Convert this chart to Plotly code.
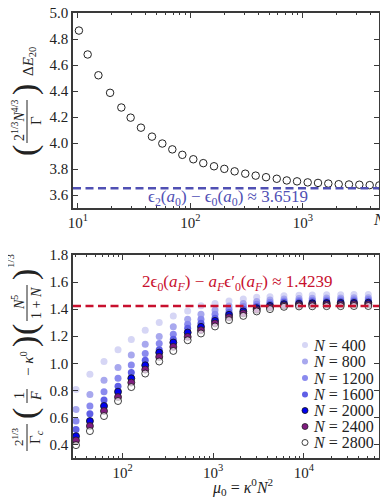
import plotly.graph_objects as go
from plotly.subplots import make_subplots

# ---- top panel data: scaled gap vs N ----
n_top = [10.2, 12.2, 15.2, 19.3, 24.3, 29.4, 36.3, 45.5, 56.2, 69.0, 84.7, 106,
         130, 162, 200, 247, 307, 380, 470, 585, 718, 886, 1102, 1361, 1680,
         2078, 2566, 3170, 3920, 4775]
gap_top = [4.865, 4.681, 4.521, 4.386, 4.273, 4.195, 4.118, 4.049, 3.996, 3.951,
           3.909, 3.875, 3.845, 3.821, 3.801, 3.782, 3.764, 3.749, 3.737, 3.725,
           3.712, 3.705, 3.697, 3.693, 3.688, 3.683, 3.681, 3.679, 3.676, 3.674]
limit_top = 3.6519

# ---- bottom panel data: scaled field vs mu0, one series per N ----
mu0 = [30.7, 43.7, 62.5, 89.2, 125, 178, 254, 363, 523, 733, 1047, 1494, 2147,
       3016, 4227, 6030, 8830, 12370, 17810, 25450, 35640, 51290]
n_labels = [400, 800, 1200, 1600, 2000, 2400, 2800]
f_400 = [0.807, 0.919, 1.013, 1.099, 1.175, 1.244, 1.301, 1.350, 1.387, 1.425, 1.442,
         1.461, 1.474, 1.487, 1.491, 1.499, 1.503, 1.505, 1.506, 1.507, 1.508, 1.509]
f_800 = [0.659, 0.770, 0.874, 0.968, 1.061, 1.141, 1.198, 1.269, 1.326, 1.363, 1.393,
         1.424, 1.442, 1.457, 1.467, 1.474, 1.478, 1.480, 1.482, 1.483, 1.484, 1.485]
f_1200 = [0.573, 0.684, 0.790, 0.889, 0.987, 1.072, 1.146, 1.215, 1.289, 1.326, 1.363,
          1.400, 1.420, 1.437, 1.450, 1.461, 1.464, 1.466, 1.468, 1.469, 1.470, 1.471]
f_1600 = [0.511, 0.627, 0.728, 0.830, 0.931, 1.022, 1.100, 1.178, 1.259, 1.296, 1.333,
          1.376, 1.400, 1.420, 1.437, 1.450, 1.452, 1.454, 1.456, 1.457, 1.458, 1.459]
f_2000 = [0.461, 0.573, 0.684, 0.790, 0.889, 0.985, 1.079, 1.153, 1.227, 1.269, 1.313,
          1.358, 1.383, 1.407, 1.424, 1.437, 1.440, 1.443, 1.445, 1.446, 1.446, 1.447]
f_2400 = [0.430, 0.536, 0.647, 0.750, 0.857, 0.953, 1.047, 1.121, 1.195, 1.244, 1.294,
          1.339, 1.368, 1.395, 1.413, 1.427, 1.430, 1.433, 1.434, 1.435, 1.436, 1.436]
f_2800 = [0.395, 0.499, 0.610, 0.721, 0.824, 0.924, 1.013, 1.091, 1.170, 1.220, 1.272,
          1.319, 1.350, 1.383, 1.400, 1.417, 1.420, 1.421, 1.422, 1.422, 1.423, 1.423]
limit_bot = 1.4239

top_ticks = [10, 100, 1000]
top_ticktext = ['10<sup>1</sup>', '10<sup>2</sup>', '10<sup>3</sup>']
bot_ticks = [100, 1000, 10000]
bot_ticktext = ['10<sup>2</sup>', '10<sup>3</sup>', '10<sup>4</sup>']

series = [f_400, f_800, f_1200, f_1600, f_2000, f_2400, f_2800]
fills = ['#d6d6f5', '#a8a8ee', '#8a8aee', '#5f5fe6', '#0000f0', '#801c80',
         'rgba(255,255,255,0.7)']
edges = [None, None, None, None, '#111111', '#222222', '#111111']

# the page body adds an 8px margin, so the figure is a bit smaller than the window
OFF = 8
W, H = 380, 492
ML, MR, MT, MB = 65, 9, 5, 42
SERIF = 'Liberation Serif, Times New Roman, serif'
BLUE = '#5050b4'
RED = '#c8102e'
AX = '#3a3a3a'


def px(x):
    # window pixel -> paper x
    return (x - OFF - ML) / (W - ML - MR)


def py(y):
    # window pixel -> paper y
    return (H - MB - (y - OFF)) / (H - MT - MB)


fig = make_subplots(rows=2, cols=1)

fig.add_trace(go.Scatter(x=n_top, y=gap_top, mode='markers', showlegend=False,
                         marker=dict(symbol='circle-open', size=7.5, color='#222',
                                     line=dict(width=1))),
              row=1, col=1)

for n, f, c, e in zip(n_labels, series, fills, edges):
    mk = dict(size=7, color=c)
    if e:
        mk['line'] = dict(color=e, width=0.8)
    else:
        mk['line'] = dict(width=0)
    fig.add_trace(go.Scatter(x=mu0, y=f, mode='markers', name=f'N = {n}',
                             showlegend=False, marker=mk), row=2, col=1)

axis_common = dict(showline=True, linecolor=AX, linewidth=1.5, mirror='allticks',
                   ticks='inside', ticklen=5, tickcolor=AX, showgrid=False,
                   zeroline=False, automargin=False, ticklabeloverflow='allow',
                   tickfont=dict(family=SERIF, size=15, color='#222'))

fig.update_xaxes(type='log',
                 minor=dict(ticks='inside', ticklen=2.5, tickcolor=AX, dtick='D1'),
                 **axis_common)
fig.update_xaxes(range=[0.956, 3.676], tickvals=top_ticks, ticktext=top_ticktext,
                 domain=[0, 1], row=1, col=1)
fig.update_xaxes(range=[1.454, 4.828], tickvals=bot_ticks, ticktext=bot_ticktext,
                 domain=[0, 1], row=2, col=1)
fig.update_yaxes(**axis_common)
fig.update_yaxes(range=[3.5, 5.0], dtick=0.2, tickformat='.1f',
                 domain=[py(208), 1], row=1, col=1)
fig.update_yaxes(range=[0.3, 1.8], dtick=0.2, tickformat='.1f',
                 domain=[0, py(255)], row=2, col=1)

shapes = [
    dict(type='line', xref='x domain', yref='y', x0=0, x1=1, y0=limit_top,
         y1=limit_top, line=dict(color=BLUE, width=2.5, dash='8px,4.5px')),
    dict(type='line', xref='x2 domain', yref='y2', x0=0, x1=1, y0=limit_bot,
         y1=limit_bot, line=dict(color=RED, width=2.5, dash='8px,4.5px')),
]

ann = []


def label(text, x, y, size=15, angle=-90, color='#222', anchor='center'):
    ann.append(dict(text=text, x=px(x), y=py(y), xref='paper', yref='paper',
                    showarrow=False, textangle=angle, xanchor=anchor,
                    yanchor='middle', font=dict(family=SERIF, size=size, color=color)))


def frac_bar(x, y0, y1):
    shapes.append(dict(type='line', xref='paper', yref='paper', x0=px(x), x1=px(x),
                       y0=py(y0), y1=py(y1), line=dict(color='#222', width=1)))


# in-plot texts
label('ϵ<sub>2</sub>(<i>a</i><sub>0</sub>) − ϵ<sub>0</sub>(<i>a</i><sub>0</sub>) ≈ 3.6519',
      228, 198, size=17, angle=0, color=BLUE)
label('2ϵ<sub>0</sub>(<i>a<sub>F</sub></i>) − <i>a<sub>F</sub></i>ϵ′<sub>0</sub>'
      '(<i>a<sub>F</sub></i>) ≈ 1.4239', 237, 283, size=17, angle=0, color=RED)
label('<i>N</i>', 379, 219, size=16, angle=0)
label('<i>μ</i><sub>0</sub> = <i>κ</i><sup>0</sup><i>N</i><sup>2</sup>', 242, 487,
      size=16, angle=0)

# legend drawn by hand: small circles + labels in the lower right corner
legend_rows = [345, 361.5, 378, 394.5, 410.5, 426.5, 442.5]
for n, c, e, yy in zip(n_labels, fills, edges, legend_rows):
    shapes.append(dict(type='circle', xref='paper', yref='paper',
                       xsizemode='pixel', ysizemode='pixel',
                       xanchor=px(305), yanchor=py(yy), x0=-3, x1=3, y0=-3, y1=3,
                       fillcolor=c, line=dict(color=e or c, width=0.8 if e else 0)))
    label(f'<i>N</i> = {n}', 311, yy, size=16, angle=0, anchor='left')

# top y title, built piece by piece (rotated)
label('(', 25, 151, size=34)
label('2<sup>1/3</sup><i>N</i><sup>4/3</sup>', 18, 121, size=14)
frac_bar(27, 100, 143)
label('Γ', 36, 121, size=15)
label(')', 25, 90, size=34)
label('Δ<i>E</i><sub>20</sub>', 29, 62, size=15)

# bottom y title
label('2<sup>1/3</sup>', 18, 437, size=13)
frac_bar(27, 424, 451)
label('Γ<sub><i>c</i></sub>', 36, 437, size=15)
label('(', 25, 414, size=34)
label('1', 19, 396, size=14)
frac_bar(27, 389, 403)
label('<i>F</i>', 36, 396, size=14)
label('− <i>κ</i><sup>0</sup>', 27, 364, size=15)
label(')', 25, 342, size=34)
label('(', 25, 330, size=34)
label('<i>N</i><sup>5</sup>', 18, 303, size=14)
frac_bar(27, 285, 321)
label('1 + <i>N</i>', 36, 303, size=14)
label(')', 25, 275, size=34)
label('1/3', 10, 261, size=11)

fig.update_layout(
    width=W, height=H,
    margin={'l': ML, 'r': MR, 't': MT, 'b': MB},
    paper_bgcolor='white', plot_bgcolor='white',
    font=dict(family=SERIF, size=15, color='#222'),
    shapes=shapes, annotations=ann, showlegend=False,
)

fig.write_html("out.html")
